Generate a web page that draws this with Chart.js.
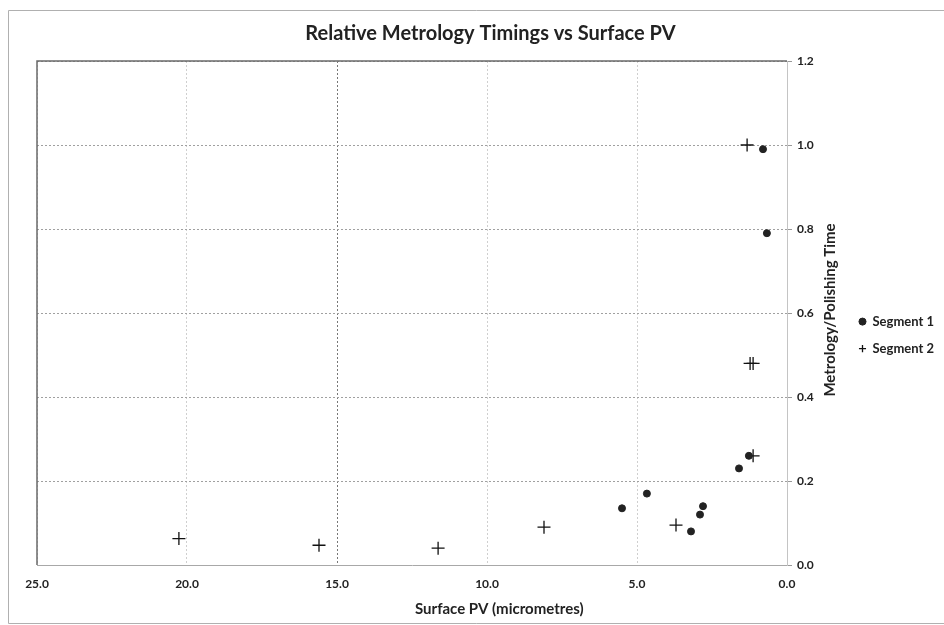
<!DOCTYPE html>
<html>
<head>
<meta charset="utf-8">
<script src="https://cdn.jsdelivr.net/npm/chart.js@4/dist/chart.umd.min.js"></script>
<style>
  html, body { margin: 0; padding: 0; background: #fff; }
  #wrap { width: 944px; height: 625px; }
</style>
</head>
<body>
<div id="wrap"><canvas id="myChart" width="944" height="625"></canvas></div>
<script>
// values
const seg1X = [0.8, 0.67, 1.27, 1.6, 4.67, 5.5, 2.8, 2.9, 3.2];
const seg1Y = [0.99, 0.79, 0.26, 0.23, 0.17, 0.135, 0.14, 0.12, 0.08];
const seg2X = [1.33, 1.23, 1.13, 1.13, 3.7, 8.1, 11.63, 15.6, 20.27];
const seg2Y = [1.0, 0.48, 0.48, 0.26, 0.095, 0.09, 0.04, 0.047, 0.063];
const seriesNames = ['Segment 1', 'Segment 2'];
const xTitle = 'Surface PV (micrometres)';
const yTitle = 'Metrology/Polishing Time';

const FONT = 'Lato, "Open Sans", sans-serif';

function toPoints(xs, ys) {
  return xs.map((x, i) => ({ x: x, y: ys[i] }));
}

const frame = {
  id: 'frame',
  beforeDraw: (chart) => {
    const ctx = chart.ctx;
    ctx.save();
    ctx.fillStyle = '#fff';
    ctx.fillRect(0, 0, chart.width, chart.height);
    ctx.strokeStyle = '#b0b0b0';
    ctx.lineWidth = 1;
    ctx.beginPath();
    ctx.moveTo(chart.width, 10.5);
    ctx.lineTo(8.5, 10.5);
    ctx.lineTo(8.5, 623.5);
    ctx.lineTo(chart.width, 623.5);
    ctx.stroke();
    ctx.restore();
  },
  afterDraw: (chart) => {
    const ctx = chart.ctx;
    const a = chart.chartArea;
    ctx.save();
    // plot frame top and left
    ctx.strokeStyle = '#6a6a6a';
    ctx.lineWidth = 1.5;
    ctx.beginPath();
    ctx.moveTo(a.right, a.top);
    ctx.lineTo(a.left, a.top);
    ctx.lineTo(a.left, a.bottom);
    ctx.stroke();
    // axis titles (x one sits right of centre in the original)
    ctx.fillStyle = '#222';
    ctx.font = 'bold 15px ' + FONT;
    ctx.textAlign = 'left';
    ctx.textBaseline = 'middle';
    ctx.fillText(xTitle, 415, 609);
    ctx.textAlign = 'center';
    ctx.translate(830, 310);
    ctx.rotate(-Math.PI / 2);
    ctx.fillText(yTitle, 0, 0);
    ctx.restore();
  },
};

let myChart = document.getElementById('myChart').getContext('2d');

let scatterChart = new Chart(myChart, {
  type: 'scatter',
  data: {
    datasets: [
      {
        label: seriesNames[0],
        data: toPoints(seg1X, seg1Y),
        pointStyle: 'circle',
        pointRadius: 3.5,
        backgroundColor: '#222',
        borderColor: '#222',
        borderWidth: 1,
      },
      {
        label: seriesNames[1],
        data: toPoints(seg2X, seg2Y),
        pointStyle: 'cross',
        pointRadius: 6.5,
        backgroundColor: '#111',
        borderColor: '#111',
        borderWidth: 1.3,
      },
    ],
  },
  plugins: [frame],
  options: {
    responsive: false,
    animation: false,
    layout: {
      padding: { top: 11, left: 37, right: 0, bottom: 7 },
    },
    plugins: {
      title: {
        display: true,
        text: 'Relative Metrology Timings vs Surface PV',
        color: '#222',
        font: { family: FONT, size: 20, weight: 'bold' },
        padding: { top: 11, bottom: 15 },
      },
      legend: {
        position: 'right',
        maxWidth: 99,
        title: {
          display: true,
          text: ' ',
          font: { size: 1 },
          padding: { top: 20, bottom: 20 },
        },
        labels: {
          usePointStyle: true,
          boxWidth: 7,
          boxHeight: 5,
          padding: 14,
          color: '#222',
          font: { family: FONT, size: 13, weight: 'bold' },
        },
      },
      tooltip: { enabled: false },
    },
    scales: {
      x: {
        type: 'linear',
        reverse: true,
        min: 0,
        max: 25,
        afterFit: (scale) => { scale.height = 53; },
        ticks: {
          stepSize: 5,
          padding: 12,
          color: '#222',
          font: { family: FONT, size: 12, weight: 'bold' },
          callback: (v) => Number(v).toFixed(1),
        },
        grid: {
          drawTicks: false,
          color: (c) => (c.tick && c.tick.value === 15 ? '#777' : '#cfcfcf'),
        },
        border: { color: '#a8a8a8', dash: [2, 2] },
      },
      y: {
        position: 'right',
        min: 0,
        max: 1.2,
        afterFit: (scale) => { scale.width = 58; },
        ticks: {
          stepSize: 0.2,
          padding: 5,
          color: '#222',
          font: { family: FONT, size: 12, weight: 'bold' },
          callback: (v) => Number(v).toFixed(1),
        },
        grid: {
          color: '#a0a0a0',
          tickLength: 5,
          tickColor: '#999',
        },
        border: { color: '#c4c4c4', dash: [2, 2] },
      },
    },
  },
});
</script>
</body>
</html>
